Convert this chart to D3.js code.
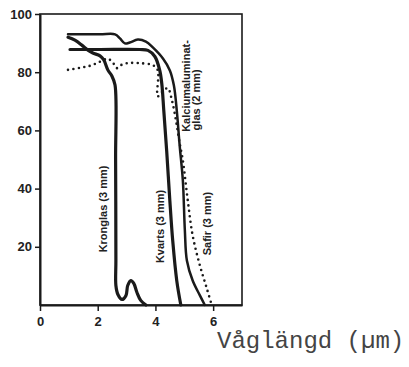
<!DOCTYPE html>
<html>
<head>
<meta charset="utf-8">
<script src="https://cdn.jsdelivr.net/npm/d3@7"></script>
<style>
  body { margin: 0; background: #fff; }
  svg { display: block; }
</style>
</head>
<body>
<div id="chart"></div>
<script>
  // wavelength (µm) / transmission (%)
  const kronglasX = [0.97, 1.21, 1.45, 1.66, 1.83, 2.08, 2.21, 2.35, 2.49, 2.6, 2.62, 2.63, 2.63, 2.7, 2.84, 2.98, 3.04, 3.15, 3.25, 3.36, 3.49, 3.67];
  const kronglasY = [92, 91, 89.3, 87.6, 86.6, 85.6, 84.2, 80.8, 78.7, 75.6, 50, 15.3, 6.7, 3.6, 1.9, 3.3, 6.7, 8.4, 7.4, 4.3, 1.6, 0];

  const kvartsX = [1.04, 2.08, 3.46, 3.74, 3.98, 4.15, 4.22, 4.29, 4.39, 4.5, 4.6, 4.74, 4.88];
  const kvartsY = [87.8, 87.8, 87.8, 87.5, 85.4, 80.6, 76.1, 66.8, 53, 35.8, 22, 8.3, 0];

  const kalciumX = [0.97, 2.08, 2.6, 2.77, 2.94, 3.11, 3.39, 3.67, 3.91, 4.26, 4.5, 4.64, 4.74, 4.84, 4.95, 5.02, 5.09, 5.29, 5.54, 5.71];
  const kalciumY = [93, 93, 93, 91.6, 89.9, 90.2, 91.2, 90.5, 88.5, 84.7, 80.6, 75.4, 66.8, 54.8, 42.8, 25.6, 15.3, 8.4, 3.3, 0];

  const safirX = [0.97, 1.38, 1.73, 2.08, 2.35, 2.53, 2.66, 2.8, 3.01, 3.46, 3.91, 4.08, 4.08, 4.29, 4.43, 4.57, 4.71, 4.84, 4.95, 5.12, 5.29, 5.54, 5.78, 5.95];
  const safirY = [80.8, 81.5, 82.2, 83.6, 84.6, 83.2, 81.4, 82.4, 83.1, 83.1, 82.4, 80.7, 71.7, 73.8, 74.5, 70.4, 63.5, 55.6, 49.7, 36, 23.9, 13.6, 5.7, 0];

  const xTicks = [0, 2, 4, 6];
  const yTicks = [20, 40, 60, 80, 100];
  const xTitle = 'Våglängd (µm)';

  const chartWidth = 409;
  const chartHeight = 367;
  const margin = { top: 14, right: 167, bottom: 62, left: 40 };
  const width = chartWidth - margin.left - margin.right;
  const height = chartHeight - margin.top - margin.bottom;
  const ink = '#1a1a1a';

  const svg = d3.select('#chart')
    .append('svg')
      .attr('width', chartWidth)
      .attr('height', chartHeight);

  const g = svg.append('g')
    .attr('transform', `translate(${margin.left},${margin.top})`);

  const x = d3.scaleLinear().domain([0, 7]).range([0, width]);
  const y = d3.scaleLinear().domain([0, 100]).range([height, 0]);

  // frame
  g.append('rect')
    .attr('x', 0).attr('y', 0)
    .attr('width', width).attr('height', height)
    .attr('fill', 'none')
    .attr('stroke', ink)
    .attr('stroke-width', 1.6);

  const xAxis = g.append('g')
    .attr('transform', `translate(0,${height})`)
    .call(d3.axisBottom(x).tickValues(xTicks).tickFormat(d3.format('d')).tickSize(6).tickSizeOuter(0));
  const yAxis = g.append('g')
    .call(d3.axisLeft(y).tickValues(yTicks).tickFormat(d3.format('d')).tickSize(5).tickSizeOuter(0));

  [xAxis, yAxis].forEach(ax => {
    ax.select('.domain').attr('stroke', ink).attr('stroke-width', 2);
    ax.selectAll('.tick line').attr('stroke', ink).attr('stroke-width', 1.5);
    ax.selectAll('text')
      .attr('fill', '#222')
      .style('font-family', '"Liberation Sans", Arial, sans-serif')
      .style('font-weight', 'bold')
      .style('font-size', '13px');
  });
  xAxis.selectAll('text').attr('dy', '0.9em');
  yAxis.selectAll('text').attr('x', -8);

  const line = d3.line()
    .x(d => x(d[0]))
    .y(d => y(d[1]))
    .curve(d3.curveCatmullRom.alpha(0.5));

  const series = [
    { xs: kronglasX, ys: kronglasY, width: 3.2, dash: null },
    { xs: kvartsX, ys: kvartsY, width: 3.2, dash: null },
    { xs: kalciumX, ys: kalciumY, width: 2.5, dash: null },
    { xs: safirX, ys: safirY, width: 2.6, dash: '0 5.5' }
  ];

  series.forEach(s => {
    g.append('path')
      .datum(s.xs.map((v, i) => [v, s.ys[i]]))
      .attr('d', line)
      .attr('fill', 'none')
      .attr('stroke', ink)
      .attr('stroke-width', s.width)
      .attr('stroke-linecap', 'round')
      .attr('stroke-linejoin', 'round')
      .attr('stroke-dasharray', s.dash);
  });

  // rotated curve labels
  const labels = [
    { text: 'Kronglas (3 mm)', px: 2.2, py: 33, anchor: 'middle' },
    { text: 'Kvarts (3 mm)', px: 4.15, py: 27, anchor: 'middle' },
    { text: 'Safir (3 mm)', px: 5.78, py: 28, anchor: 'middle' },
    { text: 'Kalciumaluminat-', px: 5.05, py: 59.5, anchor: 'start' },
    { text: 'glas (2 mm)', px: 5.42, py: 60, anchor: 'start' }
  ];

  labels.forEach(l => {
    g.append('text')
      .attr('transform', `translate(${x(l.px)},${y(l.py)}) rotate(-90)`)
      .attr('text-anchor', l.anchor)
      .attr('dy', '0.35em')
      .attr('fill', '#222')
      .style('font-family', '"Liberation Sans", Arial, sans-serif')
      .style('font-weight', 'bold')
      .style('font-size', '11px')
      .text(l.text);
  });

  svg.append('text')
    .attr('x', 217)
    .attr('y', 348)
    .attr('fill', '#444')
    .style('font-family', '"Liberation Mono", "Courier New", monospace')
    .style('font-size', '24px')
    .text(xTitle);
</script>
</body>
</html>
